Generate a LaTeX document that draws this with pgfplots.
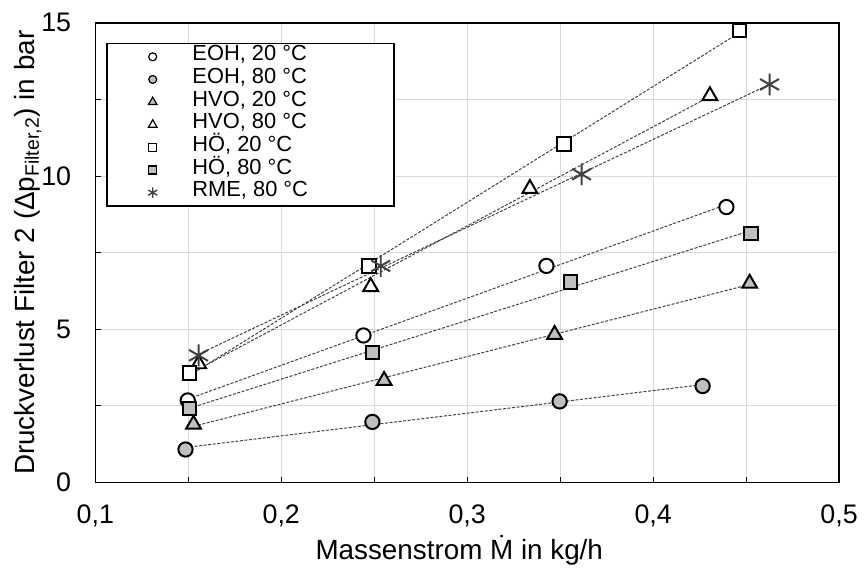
\documentclass[border=0pt]{standalone}
\usepackage{fontspec}
\setmainfont{Liberation Sans}
\usepackage{pgfplots}
\usepackage{pgfplotstable}
\pgfplotsset{compat=1.18}
\definecolor{mgray}{HTML}{BFBFBF}
\definecolor{ggrid}{HTML}{D9D9D9}
\definecolor{tline}{HTML}{404040}

\pgfplotstableread{
x y
0.1497 2.68
0.2442 4.80
0.3426 7.07
0.4394 8.99
}\tEOHa
\pgfplotstableread{
x y
0.1485 1.08
0.2490 1.98
0.3497 2.65
0.4266 3.15
}\tEOHb
\pgfplotstableread{
x y
0.1528 1.90
0.2553 3.33
0.3470 4.83
0.4519 6.50
}\tHVOa
\pgfplotstableread{
x y
0.1556 3.87
0.2481 6.39
0.3337 9.59
0.4305 12.62
}\tHVOb
\pgfplotstableread{
x y
0.1506 3.57
0.2473 7.07
0.3520 11.05
0.4465 14.75
}\tHOa
\pgfplotstableread{
x y
0.1506 2.41
0.2490 4.25
0.3556 6.55
0.4527 8.12
}\tHOb
\pgfplotstableread{
x y
0.1555 4.15
0.2535 7.07
0.3615 10.06
0.4626 12.99
}\tRME

\newcommand{\legtxt}[1]{\makebox[101pt][l]{#1}}

\begin{document}
\fontsize{14}{16.5}\selectfont
\begin{tikzpicture}
\begin{axis}[
  name=ax,
  scale only axis,
  width=374.5pt, height=231.5pt,
  xmin=0.1, xmax=0.5, ymin=0, ymax=15,
  xtick={0.1,0.2,0.3,0.4,0.5},
  minor xtick={0.15,0.25,0.35,0.45},
  ytick={0,5,10,15},
  minor ytick={2.5,7.5,12.5},
  grid=both,
  major grid style={ggrid, line width=0.5pt},
  minor grid style={ggrid, line width=0.5pt},
  tick align=inside,
  major tick length=3pt, minor tick length=3pt,
  tick style={black, line width=0.5pt},
  xtick pos=left, ytick pos=left,
  axis line style={black, line width=0.8pt},
  /pgf/number format/assume math mode=true,
  tick label style={font=\fontsize{13.5}{16}\selectfont},
  xticklabel style={/pgf/number format/fixed, /pgf/number format/fixed zerofill, /pgf/number format/precision=1, /pgf/number format/use comma, anchor=base, yshift=-20.5pt},
  yticklabel style={/pgf/number format/fixed, /pgf/number format/precision=0, anchor=east, inner xsep=0pt, xshift=-12pt},
  every axis x label/.style={at={(axis description cs:0.5,0)}, xshift=-4pt, yshift=-38.5pt, anchor=base},
  every axis y label/.style={at={(axis description cs:0,0.5)}, xshift=-34pt, rotate=90, anchor=center},
  xlabel={Massenstrom Ṁ in kg/h},
  ylabel={Druckverlust Filter 2 (Δp\textsubscript{Filter,2}) in bar},
  legend image code/.code={\path[draw=none,fill=none] (0pt,-3pt) rectangle (40pt,3pt); \draw[#1] plot coordinates {(22.5pt,0pt)};},
  legend style={
    at={(axis description cs:0,1)}, anchor=north west,
    xshift=5.5pt, yshift=-10pt,
    draw=black, line width=0.8pt, fill=white,
    inner xsep=0.5pt, inner ysep=1pt,
    column sep=2.5pt,
    font=\fontsize{11}{12.5}\selectfont,
    nodes={inner xsep=0pt, inner ysep=0pt, text height=7.8pt, text depth=3.6pt},
  },
  legend cell align=left,
]
% legend images
\addlegendimage{mark=*, mark size=2pt, draw=black, fill=white, line width=0.6pt}
\addlegendentry{\legtxt{EOH, 20 °C}}
\addlegendimage{mark=*, mark size=2pt, draw=black, fill=mgray, line width=0.6pt}
\addlegendentry{\legtxt{EOH, 80 °C}}
\addlegendimage{mark=triangle*, mark size=2.5pt, draw=black, fill=mgray, line width=0.6pt}
\addlegendentry{\legtxt{HVO, 20 °C}}
\addlegendimage{mark=triangle*, mark size=2.5pt, draw=black, fill=white, line width=0.6pt}
\addlegendentry{\legtxt{HVO, 80 °C}}
\addlegendimage{mark=square*, mark size=2pt, draw=black, fill=white, line width=0.6pt}
\addlegendentry{\legtxt{HÖ, 20 °C}}
\addlegendimage{mark=square*, mark size=2pt, draw=black, fill=mgray, line width=0.6pt}
\addlegendentry{\legtxt{HÖ, 80 °C}}
\addlegendimage{mark=asterisk, mark size=2.6pt, draw=tline, line width=0.7pt}
\addlegendentry{\legtxt{RME, 80 °C}}

% markers
\addplot[forget plot, only marks, mark=*, mark size=3.6pt, draw=black, fill=white, mark options={line width=1pt}] table[x=x,y=y] {\tEOHa};
\addplot[forget plot, only marks, mark=*, mark size=3.6pt, draw=black, fill=mgray, mark options={line width=1pt}] table[x=x,y=y] {\tEOHb};
\addplot[forget plot, only marks, mark=triangle*, mark size=4.3pt, draw=black, fill=mgray, mark options={line width=1pt}] table[x=x,y=y] {\tHVOa};
\addplot[forget plot, only marks, mark=triangle*, mark size=4.3pt, draw=black, fill=white, mark options={line width=1pt}] table[x=x,y=y] {\tHVOb};
\addplot[forget plot, only marks, mark=square*, mark size=3.4pt, draw=black, fill=white, mark options={line width=1pt}] table[x=x,y=y] {\tHOa};
\addplot[forget plot, only marks, mark=square*, mark size=3.4pt, draw=black, fill=mgray, mark options={line width=1pt}] table[x=x,y=y] {\tHOb};
\addplot[forget plot, only marks, mark=asterisk, mark size=5.5pt, draw=tline, mark options={line width=1pt}] table[x=x,y=y] {\tRME};

% trend lines
\pgfplotsset{trend/.style={forget plot, no marks, tline, line width=0.5pt, dash pattern=on 1.5pt off 0.8pt}}
\addplot[trend] table[x=x, y={create col/linear regression={y=y}}] {\tEOHa};
\addplot[trend] table[x=x, y={create col/linear regression={y=y}}] {\tEOHb};
\addplot[trend] table[x=x, y={create col/linear regression={y=y}}] {\tHVOa};
\addplot[trend] table[x=x, y={create col/linear regression={y=y}}] {\tHVOb};
\addplot[trend] table[x=x, y={create col/linear regression={y=y}}] {\tHOa};
\addplot[trend] table[x=x, y={create col/linear regression={y=y}}] {\tHOb};
\addplot[trend] table[x=x, y={create col/linear regression={y=y}}] {\tRME};
\end{axis}
\path (ax.south west) ++(-48pt,-40pt) coordinate (bbA);
\path (ax.north east) ++(11pt,11.5pt) coordinate (bbB);
\path (bbA) rectangle (bbB);
\end{tikzpicture}
\end{document}
